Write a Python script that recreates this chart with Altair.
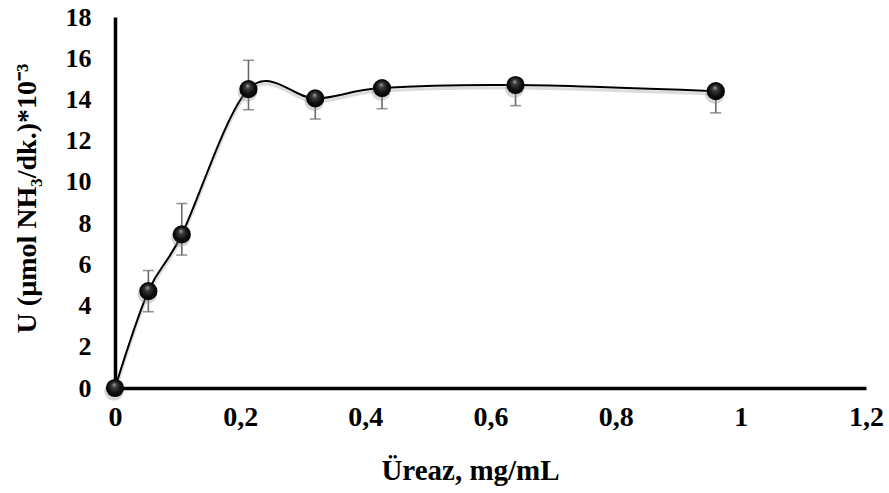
import altair as alt
import pandas as pd

# Urease concentration (mg/mL) and measured activity U (µmol NH3/dk.)*10^-3
urease = [0, 0.0533, 0.1067, 0.2133, 0.32, 0.4267, 0.64, 0.96]
activity = [0, 4.7, 7.45, 14.5, 14.05, 14.55, 14.7, 14.4]
err_up = [0, 1.0, 1.5, 1.4, 0, 0, 0, 0]
err_down = [0, 1.0, 1.0, 1.0, 1.0, 1.0, 1.0, 1.05]

x_ticks = [0, 0.2, 0.4, 0.6, 0.8, 1, 1.2]
y_ticks = list(range(0, 19, 2))

df = pd.DataFrame({"x": urease, "y": activity})
df["lo"] = [v - e for v, e in zip(activity, err_down)]
df["hi"] = [v + e for v, e in zip(activity, err_up)]

FONT = "Liberation Serif"

x_enc = alt.X(
    "x:Q",
    scale=alt.Scale(domain=[0, 1.2], nice=False, zero=True),
    axis=alt.Axis(
        values=x_ticks,
        labelExpr="replace(toString(datum.value), '.', ',')",
        labelFlush=False,
        labelFontSize=28,
        labelPadding=15,
        title="Üreaz, mg/mL",
        titleX=355,
        titleY=82,
        titleBaseline="middle",
        titleAlign="center",
        titleFontSize=29,
    ),
)
y_scale = alt.Scale(domain=[0, 18], nice=False)
y_enc = alt.Y(
    "y:Q",
    scale=y_scale,
    axis=alt.Axis(
        values=y_ticks,
        labelFontSize=26,
        labelPadding=24,
        title="U (µmol NH₃/dk.)*10⁻³",
        titleX=-88,
        titleY=181,
        titleAngle=-90,
        titleBaseline="middle",
        titleAlign="center",
        titleFontSize=28,
    ),
)

base = alt.Chart(df)

err_color = "#6a6a6a"
bars = base.mark_rule(color=err_color, strokeWidth=1.6).encode(
    x=x_enc, y=alt.Y("lo:Q", scale=y_scale), y2="hi:Q"
)
caps_lo = base.transform_filter("datum.x > 0").mark_tick(
    color=err_color, orient="horizontal", size=11, thickness=1.6
).encode(x="x:Q", y=alt.Y("lo:Q", scale=y_scale))
caps_hi = base.transform_filter("datum.hi > datum.y").mark_tick(
    color=err_color, orient="horizontal", size=11, thickness=1.6
).encode(x="x:Q", y=alt.Y("hi:Q", scale=y_scale))

line_shadow = base.mark_line(
    interpolate="cardinal", color="#9a9a9a", strokeWidth=3, opacity=0.35, yOffset=3
).encode(x="x:Q", y=alt.Y("y:Q", scale=y_scale))
line = base.mark_line(interpolate="cardinal", color="black", strokeWidth=2).encode(
    x=x_enc, y=y_enc
)

dot_shadow = base.mark_circle(
    size=380, color="#8a8a8a", opacity=0.35, yOffset=3, xOffset=-1
).encode(x="x:Q", y=alt.Y("y:Q", scale=y_scale))

sphere = alt.Gradient(
    gradient="radial",
    x1=0.45, y1=0.3, r1=0,
    x2=0.5, y2=0.5, r2=0.55,
    stops=[
        alt.GradientStop(color="#a8a8a8", offset=0),
        alt.GradientStop(color="#3c3c3c", offset=0.25),
        alt.GradientStop(color="#0e0e0e", offset=0.65),
        alt.GradientStop(color="#000000", offset=1),
    ],
)
dots = base.mark_circle(size=330, color=sphere, opacity=1).encode(
    x="x:Q", y=alt.Y("y:Q", scale=y_scale)
)

chart = (
    alt.layer(bars, caps_lo, caps_hi, line_shadow, line, dot_shadow, dots)
    .properties(
        width=751,
        height=371,
        autosize=alt.AutoSizeParams(type="none"),
        padding={"left": 115, "top": 17, "right": 23, "bottom": 105},
        background="white",
    )
    .configure_view(stroke=None)
    .configure_axis(
        domainColor="black",
        domainWidth=3.5,
        ticks=False,
        grid=False,
        labelFont=FONT,
        labelFontWeight="bold",
        labelColor="black",
        titleFont=FONT,
        titleFontWeight="bold",
        titleColor="black",
    )
)

chart.save("out.html", embed_options={"renderer": "svg", "actions": False})
